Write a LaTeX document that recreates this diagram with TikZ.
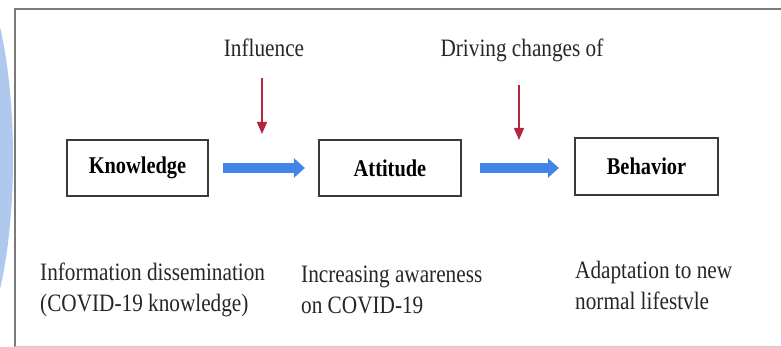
\documentclass[tikz,border=0pt]{standalone}
\usepackage{fontspec}
\setmainfont{Liberation Serif}[FakeStretch=0.85]
\usetikzlibrary{arrows.meta}
\definecolor{frameg}{HTML}{7A7A7A}
\definecolor{leftblue}{HTML}{AFC8EE}
\definecolor{arrowblue}{HTML}{4285E6}
\definecolor{arrowred}{HTML}{B3263F}
\definecolor{boxline}{HTML}{3A3A3A}
\definecolor{txt}{HTML}{262626}
\begin{document}
\begin{tikzpicture}[x=1pt,y=-1pt,
 box/.style={draw=boxline, line width=2.2pt, fill=white, inner sep=0pt, text=black, font=\fontsize{24}{28}\selectfont\bfseries},
 flow/.style={draw=arrowblue, line width=10pt, -{Triangle[length=11pt,width=19pt]}},
 cue/.style={draw=arrowred, line width=1.4pt, -{Triangle[length=12pt,width=10pt]}},
 lbl/.style={font=\fontsize{25}{31}\selectfont, text=txt, inner sep=0pt},
]
\useasboundingbox (0,0) rectangle (781,347);
\begin{scope}
\clip (0,0) rectangle (781,347);
\fill[leftblue] (-40,158) ellipse [x radius=53pt, y radius=200pt];
\end{scope}
\draw[frameg, line width=2pt] (15,347) -- (15,9) -- (781,9);
\draw[black!20, line width=1pt] (15,346) -- (781,346);

\node[box, minimum width=141pt, minimum height=56pt] (know) at (137.5,168) {Knowledge};
\node[box, minimum width=142pt, minimum height=56pt] (att) at (390,168) {Attitude};
\node[box, minimum width=143pt, minimum height=57pt] (beh) at (646.5,166.5) {Behavior};

\draw[flow, shorten <=14pt, shorten >=13pt] (know.east) -- (att.west);
\draw[flow, shorten <=18pt, shorten >=15pt] (att.east) -- (att.east -| beh.west);

\node[lbl, anchor=base] (infl) at (264,57) {Influence};
\node[lbl, anchor=base] (drive) at (522,57) {Driving changes of};

\coordinate (infltop) at (262,78);
\coordinate (infltip) at (262,134);
\coordinate (drivetop) at (519,85);
\coordinate (drivetip) at (519,140);
\draw[cue] (infltop) -- (infltip);
\draw[cue] (drivetop) -- (drivetip);

\node[lbl, anchor=base west, align=left] (info) at (40,311) {Information dissemination\\(COVID-19 knowledge)};
\node[lbl, anchor=base west, align=left] (aware) at (301,313) {Increasing awareness\\on COVID-19};
\node[lbl, anchor=base west, align=left] (adapt) at (575,309) {Adaptation to new\\normal lifestvle};
\end{tikzpicture}
\end{document}
